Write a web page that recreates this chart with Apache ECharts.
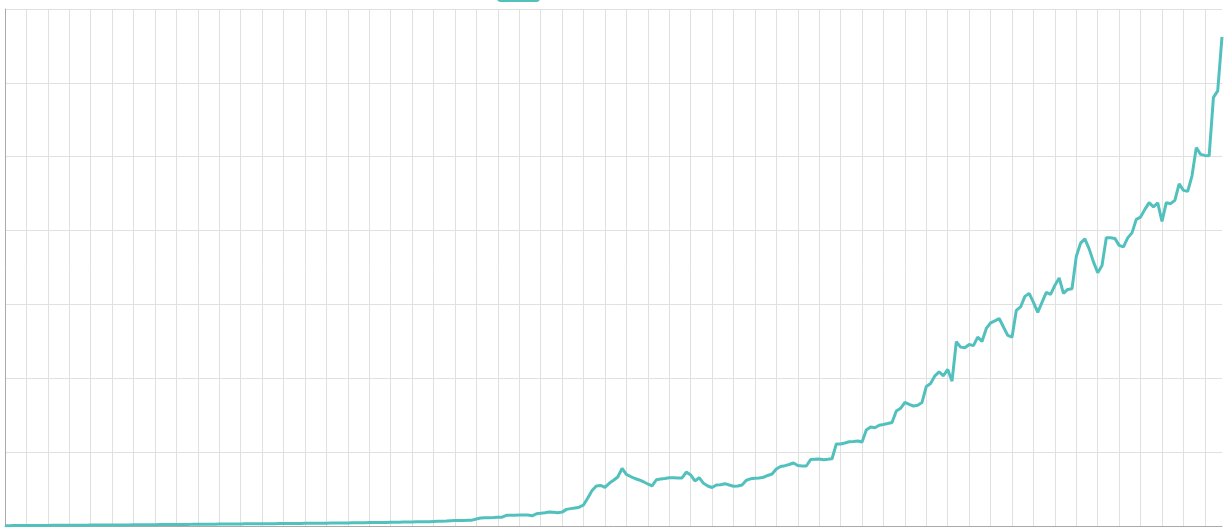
<!DOCTYPE html>
<html>
<head>
<meta charset="utf-8">
<script src="https://cdn.jsdelivr.net/npm/echarts@6/dist/echarts.min.js"></script>
<style>
html,body{margin:0;padding:0;background:#fff;}
#chart{width:1229px;height:530px;}
</style>
</head>
<body>
<div id="chart"></div>
<script>
const seriesName = 'Value';

const values = [
  0.5,0.5,0.6,0.6,0.6,0.7,0.7,0.7,0.8,0.8,
  0.8,0.9,0.9,0.9,1.0,1.0,1.0,1.1,1.1,1.1,
  1.2,1.2,1.3,1.3,1.3,1.4,1.4,1.5,1.5,1.5,
  1.6,1.6,1.7,1.7,1.8,1.8,1.9,1.9,2.0,2.0,
  2.1,2.1,2.2,2.2,2.3,2.3,2.4,2.4,2.5,2.5,
  2.6,2.6,2.7,2.7,2.8,2.8,2.9,2.9,3.0,3.0,
  3.1,3.1,3.2,3.2,3.3,3.3,3.4,3.4,3.5,3.5,
  3.6,3.6,3.7,3.7,3.8,3.8,3.9,3.9,4.0,4.1,
  4.2,4.3,4.3,4.4,4.5,4.6,4.6,4.7,4.8,4.9,
  5.0,5.1,5.2,5.3,5.4,5.5,5.6,5.7,5.8,5.9,
  6.1,6.3,6.5,6.8,7.2,7.4,7.6,7.5,7.8,7.9,
  9.5,10.8,11.2,11.3,11.5,11.8,12.0,14.4,14.6,14.7,
  14.8,14.8,14.8,13.8,16.5,17.2,18.0,18.9,18.5,18.0,
  18.8,22.5,23.5,24.5,25.5,28.4,37.9,48.0,54.2,54.9,
  52.4,57.8,61.9,66.4,77.9,69.8,67.0,64.3,62.3,59.9,
  56.9,54.2,62.6,63.7,64.3,65.3,65.4,65.0,65.0,73.1,
  69.1,61.0,65.4,57.8,54.2,52.1,55.5,55.8,57.3,55.5,
  53.9,54.2,55.5,62.0,63.9,64.6,65.0,66.0,68.4,70.4,
  77.2,80.6,81.7,83.3,85.3,81.9,81.3,81.3,90.1,90.5,
  90.8,89.7,90.3,91.0,111.1,111.1,112.4,114.0,114.5,115.1,
  113.8,130.0,134.1,133.0,136.5,137.5,138.8,140.2,155.8,159.4,
  167.3,164.6,162.5,163.6,167.3,189.0,193.0,203.4,208.6,203.4,
  212.0,196.1,249.5,242.2,241.4,245.8,244.2,255.7,249.9,267.5,
  275.0,277.7,281.0,269.5,258.0,255.7,291.9,296.6,310.9,315.0,
  302.7,289.2,302.7,316.3,313.6,325.8,335.9,314.9,320.3,321.3,
  365.0,383.0,388.7,375.2,357.6,343.0,352.8,390.4,390.4,389.4,
  380.0,377.9,390.1,396.9,415.2,418.3,428.7,437.8,432.1,437.5,
  412.4,437.8,436.4,440.9,463.2,454.4,453.1,474.1,512.3,503.2,
  501.8,501.2,580.4,589.2,662.1
];

// category labels (one per data point)
const categories = [];
for (let i = 0; i < values.length; i++) categories.push(String(i + 1));

const yMin = 0, yMax = 700, yStep = 100;

const chart = echarts.init(document.getElementById('chart'), null, {renderer: 'canvas'});
chart.setOption({
  animation: false,
  backgroundColor: '#ffffff',
  legend: {
    top: -17,
    left: 492,
    itemWidth: 43,
    itemHeight: 14,
    icon: 'roundRect',
    textStyle: {color: '#333', fontSize: 12},
    data: [seriesName]
  },
  grid: {left: 5, right: 7, top: 9, bottom: 4, containLabel: false},
  xAxis: {
    type: 'category',
    data: categories,
    boundaryGap: false,
    axisLine: {show: true, lineStyle: {color: '#aaaaaa', width: 1}},
    axisTick: {show: false},
    axisLabel: {show: false, interval: 4},
    splitLine: {show: true, interval: 4, lineStyle: {color: '#e0e0e0', width: 1}}
  },
  yAxis: {
    type: 'value',
    min: yMin, max: yMax, interval: yStep,
    axisLine: {show: true, lineStyle: {color: '#aaaaaa', width: 1}},
    axisTick: {show: false},
    axisLabel: {show: false},
    splitLine: {show: true, lineStyle: {color: '#e0e0e0', width: 1}}
  },
  series: [{
    name: seriesName,
    type: 'line',
    data: values,
    showSymbol: false,
    symbol: 'none',
    lineStyle: {color: '#52c1be', width: 3},
    itemStyle: {color: '#52c1be'}
  }]
});
</script>
</body>
</html>
